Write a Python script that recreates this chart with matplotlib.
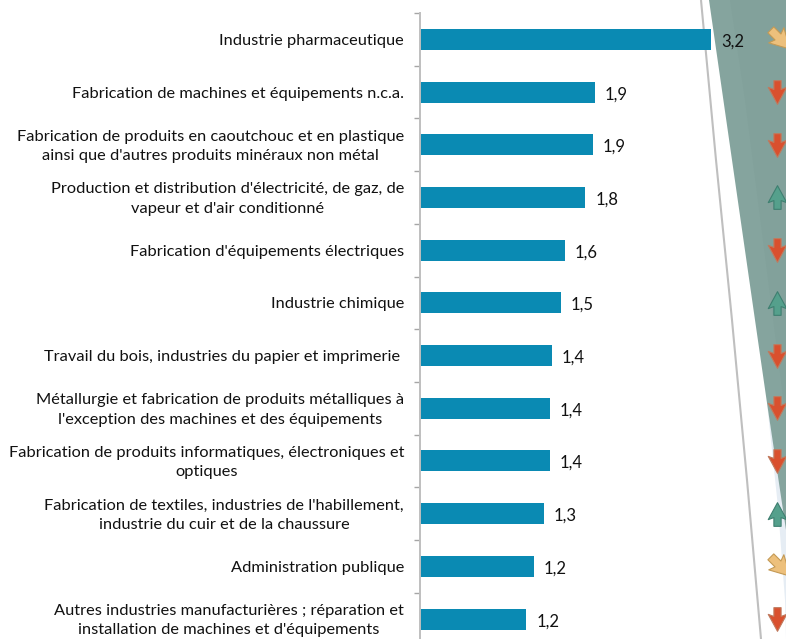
import numpy as np
import matplotlib
matplotlib.use("Agg")
import matplotlib.pyplot as plt
from matplotlib.path import Path
from matplotlib.patches import Polygon
from matplotlib.transforms import Affine2D, ScaledTranslation, blended_transform_factory

categories = [
    "Industrie pharmaceutique",
    "Fabrication de machines et équipements n.c.a.",
    "Fabrication de produits en caoutchouc et en plastique\nainsi que d'autres produits minéraux non métal",
    "Production et distribution d'électricité, de gaz, de\nvapeur et d'air conditionné",
    "Fabrication d'équipements électriques",
    "Industrie chimique",
    "Travail du bois, industries du papier et imprimerie ",
    "Métallurgie et fabrication de produits métalliques à\nl'exception des machines et des équipements",
    "Fabrication de produits informatiques, électroniques et\noptiques",
    "Fabrication de textiles, industries de l'habillement,\nindustrie du cuir et de la chaussure",
    "Administration publique",
    "Autres industries manufacturières ; réparation et\ninstallation de machines et d'équipements",
]
values = [3.20, 1.92, 1.90, 1.82, 1.59, 1.55, 1.45, 1.43, 1.43, 1.36, 1.25, 1.17]
value_labels = ["3,2", "1,9", "1,9", "1,8", "1,6", "1,5", "1,4", "1,4", "1,4", "1,3", "1,2", "1,2"]
trends = ["flat", "down", "down", "up", "down", "up", "down", "down", "down", "up", "flat", "down"]

W, H = 786, 639
plt.rcParams["font.family"] = ["Lato", "DejaVu Sans"]
fig = plt.figure(figsize=(W / 100, H / 100), dpi=100, facecolor="white")

# background decoration in pixel coordinates
bg = fig.add_axes([0, 0, 1, 1], zorder=0)
bg.set_xlim(0, W)
bg.set_ylim(H, 0)
bg.axis("off")
bg.add_patch(Polygon([(767, 403), (773, 460), (778, 507), (785, 600), (786, 639), (786, 520)],
                     closed=True, fc="#E6EDF4", ec="none"))
bg.add_patch(Polygon([(709, 0), (732, 160), (755, 320), (767, 403), (786, 530), (786, 0)],
                     closed=True, fc="#85A49E", ec="none"))
bg.add_patch(Polygon([(730, 0), (745, 100), (786, 420), (786, 0)],
                     closed=True, fc="#82A19B", ec="none"))
bg.plot([701, 716, 732, 747, 761], [0, 160, 320, 480, 639], color="#BFBFBF", lw=1.5, solid_capstyle="butt")

# main chart
AX_LEFT, AX_TOP = 420, 13
STEP = 52.7
PX_PER_UNIT = 90.9
ax = fig.add_axes([AX_LEFT / W, 0, (W - AX_LEFT) / W, (H - AX_TOP) / H], zorder=1)
ax.patch.set_visible(False)
y = np.arange(len(categories))
ax.barh(y, values, height=0.4, color="#0A8AB3", edgecolor="none")

for s in ("top", "right", "bottom"):
    ax.spines[s].set_visible(False)
ax.spines["left"].set_color("#BFBFBF")
ax.spines["left"].set_linewidth(1.4)
ax.xaxis.set_visible(False)

ax.set_yticks(y)
ax.set_yticklabels(categories, fontsize=11.8, color="#111111", multialignment="center",
                   linespacing=1.5, va="center")
ax.tick_params(axis="y", which="major", length=0, pad=11.5)
ax.set_yticks(np.arange(-0.5, len(categories) + 0.5), minor=True)
ax.tick_params(axis="y", which="minor", length=4, width=1.0, color="#A6A6A6")
ax.set_xlim(0, (W - AX_LEFT) / PX_PER_UNIT)
ax.set_ylim(-0.5 + (H - AX_TOP) / STEP, -0.5)
shift = ScaledTranslation(0, -1.5 / 100, fig.dpi_scale_trans)
for label in ax.get_yticklabels():
    label.set_transform(label.get_transform() + shift)

for yi, v, lab in zip(y, values, value_labels):
    ax.annotate(lab, (v, yi), xytext=(7.2, -1.5), textcoords="offset points",
                ha="left", va="center", fontsize=12, color="#111111")

# trend arrows
arrow_pts = np.array([(-3.5, 11.5), (3.5, 11.5), (3.5, 3), (9, 5), (0, -11.5), (-9, 5), (-3.5, 3), (-3.5, 11.5)], float)
codes = [Path.MOVETO] + [Path.LINETO] * 6 + [Path.CLOSEPOLY]
down = Path(arrow_pts, codes)
up = Path(arrow_pts * [1, -1], codes)
flat = down.transformed(Affine2D().rotate_deg(45))
styles = {
    "down": (down, "#D9502E", "#C07A5E", 777, 290),
    "up": (up, "#55A08C", "#3E7F70", 777, 290),
    "flat": (flat, "#EDC07C", "#C49A55", 780, 330),
}
trans = blended_transform_factory(fig.transFigure, ax.transData)
for key, (mk, fc, ec, xpx, size) in styles.items():
    ys = [yi for yi, t in zip(y, trends) if t == key]
    ax.scatter([xpx / W] * len(ys), ys, marker=mk, s=size, c=fc, edgecolors=ec,
               linewidths=0.8, transform=trans, clip_on=False, zorder=3)

fig.savefig("out.png", dpi=100)
